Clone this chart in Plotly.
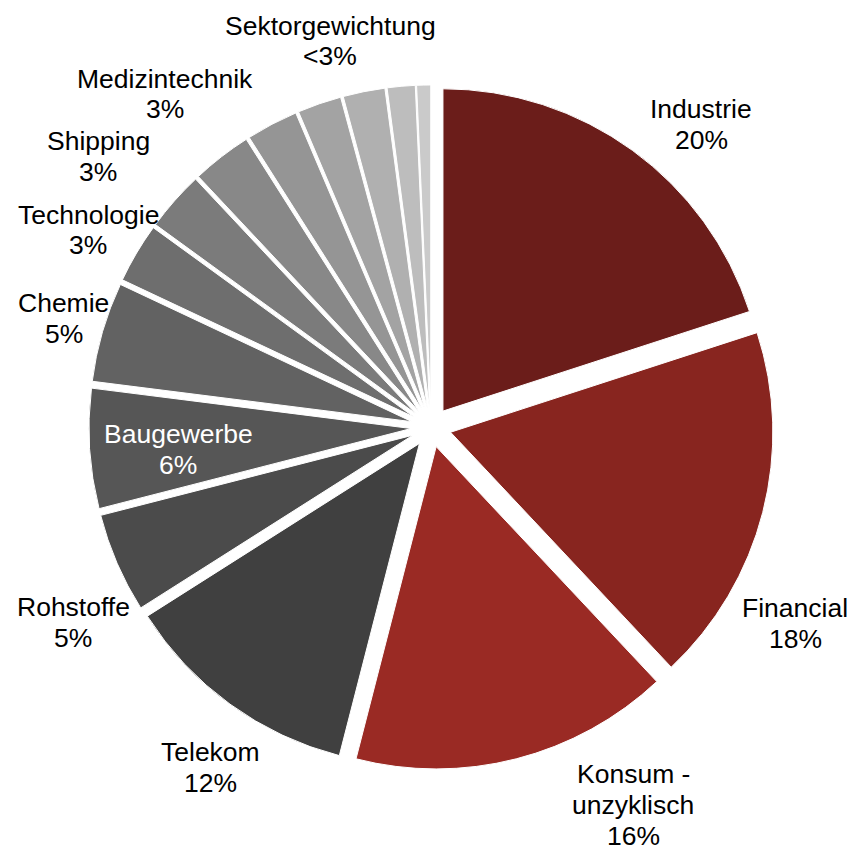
import plotly.graph_objects as go

# Sector weights (percent), clockwise from 12 o'clock
sectors = ["Industrie", "Financial", "Konsum - unzyklisch", "Telekom", "Rohstoffe",
           "Baugewerbe", "Chemie", "Technologie", "Shipping", "Medizintechnik",
           "Sonstige 1", "Sonstige 2", "Sonstige 3", "Sonstige 4", "Sonstige 5"]
weights = [20, 18, 16, 12, 5, 6, 5, 3, 3, 3, 2.6, 2.2, 2.1, 1.4, 0.7]
colors = ["#6B1D1A", "#88251F", "#9A2A24",
          "#404040", "#4B4B4B", "#565656", "#626262", "#6E6E6E", "#7B7B7B",
          "#888888", "#959595", "#A3A3A3", "#B0B0B0", "#BDBDBD", "#CACACA"]

# Text labels: lines, centre x px, centre y px, colour
label_lines = [
    ["Industrie", "20%"],
    ["Financial", "18%"],
    ["Konsum -", "unzyklisch", "16%"],
    ["Telekom", "12%"],
    ["Rohstoffe", "5%"],
    ["Baugewerbe", "6%"],
    ["Chemie", "5%"],
    ["Technologie", "3%"],
    ["Shipping", "3%"],
    ["Medizintechnik", "3%"],
    ["Sektorgewichtung", "&lt;3%"],
]
label_x = [701, 795, 633, 210, 73, 178, 64, 88, 98, 165, 330]
label_y = [124, 623, 805, 767, 622, 449, 318, 230, 156, 94, 41]
label_color = ["#000000"] * 5 + ["#FFFFFF"] + ["#000000"] * 5

W, H = 850, 848
pull = 0.062
line_step = 31      # px between text lines
font_size = 26.5

fig = go.Figure(go.Pie(
    labels=sectors,
    values=weights,
    sort=False,
    direction="clockwise",
    rotation=0,
    pull=[pull] * len(weights),
    marker=dict(colors=colors, line=dict(color="#FFFFFF", width=1)),
    textinfo="none",
    hoverinfo="label+percent",
    showlegend=False,
    domain=dict(x=[0.1046, 0.9100], y=[0.0925, 0.8998]),
))

for lines, x, y, c in zip(label_lines, label_x, label_y, label_color):
    n = len(lines)
    for i, line in enumerate(lines):
        ly = y + (i - (n - 1) / 2) * line_step
        fig.add_annotation(
            text=line,
            x=x / W, y=1 - ly / H, xref="paper", yref="paper",
            xanchor="center", yanchor="middle",
            showarrow=False, align="center",
            font=dict(family="Liberation Sans, Arial, sans-serif", size=font_size, color=c),
        )

fig.update_layout(
    width=W, height=H,
    margin=dict(l=0, r=0, t=0, b=0),
    paper_bgcolor="#FFFFFF",
    plot_bgcolor="#FFFFFF",
)

fig.write_html("out.html")
